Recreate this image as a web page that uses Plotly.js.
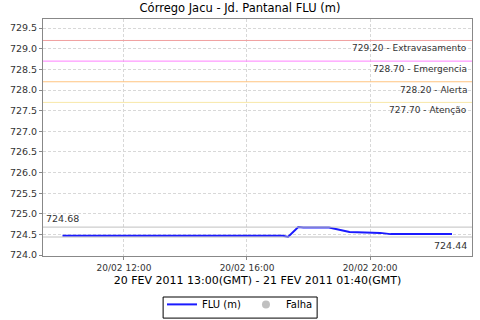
<!DOCTYPE html>
<html>
<head>
<meta charset="utf-8">
<script src="https://cdn.plot.ly/plotly-3.0.1.min.js"></script>
<style>html,body{margin:0;padding:0;background:#fff;}#chart{width:480px;height:320px;}</style>
</head>
<body>
<div id="chart"></div>
<script>
// Series: FLU (m), local time
var times = ["2011-02-20 10:00","2011-02-20 17:10","2011-02-20 17:20","2011-02-20 17:40","2011-02-20 17:50",
             "2011-02-20 18:40","2011-02-20 19:20","2011-02-20 20:00","2011-02-20 20:20","2011-02-20 20:40","2011-02-20 22:40"];
var levels = [724.47,724.47,724.44,724.68,724.67,724.67,724.56,724.55,724.54,724.51,724.51];
// Falha (failure) series: no valid readings
var falhaTimes = ["2011-02-20 10:00"];
var falhaLevels = [null];
// Threshold levels
var thresholdValues = [729.20, 728.70, 728.20, 727.70];
var thresholdNames = ["Extravasamento", "Emergencia", "Alerta", "Atenção"];
var thresholdColors = ["#f0a0a0", "#ff80ff", "#ffc480", "#f8e8a8"];
var xTickVals = ["2011-02-20 12:00","2011-02-20 16:00","2011-02-20 20:00"];
var xTickText = ["20/02 12:00","20/02 16:00","20/02 20:00"];

var maxV = Math.max.apply(null, levels);
var minV = Math.min.apply(null, levels);
var F = "DejaVu Sans, sans-serif";

var shapes = [], annotations = [];
thresholdValues.forEach(function(v,i){
  shapes.push({type:"line",xref:"paper",x0:0,x1:1,yref:"y",y0:v,y1:v,line:{color:thresholdColors[i],width:1}});
  annotations.push({xref:"paper",x:1,xanchor:"right",xshift:-3,yref:"y",y:v,yanchor:"top",yshift:-1,
    text:v.toFixed(2)+" - "+thresholdNames[i],showarrow:false,font:{family:F,size:9,color:"#333"}});
});
shapes.push({type:"line",xref:"paper",x0:0,x1:1,yref:"y",y0:maxV,y1:maxV,line:{color:"#c0c0c0",width:1}});
shapes.push({type:"line",xref:"paper",x0:0,x1:1,yref:"y",y0:minV,y1:minV,line:{color:"#c0c0c0",width:1}});
// legend frame
shapes.push({type:"rect",xref:"paper",yref:"paper",x0:0.28,x1:0.639,y0:-0.173,y1:-0.262,line:{color:"#000",width:1},fillcolor:"rgba(0,0,0,0)"});
annotations.push({xref:"paper",x:0,xanchor:"left",xshift:1,yref:"y",y:maxV,yanchor:"bottom",yshift:1,
  text:maxV.toFixed(2),showarrow:false,font:{family:F,size:9.5,color:"#333"}});
annotations.push({xref:"paper",x:1,xanchor:"right",xshift:-3,yref:"y",y:minV,yanchor:"top",yshift:-1,
  text:minV.toFixed(2),showarrow:false,font:{family:F,size:9.5,color:"#333"}});

var data = [
  {x:times,y:levels,type:"scatter",mode:"lines",name:"FLU (m)",line:{color:"#1a1aff",width:2}},
  {x:falhaTimes,y:falhaLevels,type:"scatter",mode:"markers",name:"Falha",marker:{color:"#c0c0c0",size:8,symbol:"circle"}}
];

var layout = {
  width:480,height:320,
  margin:{l:43,r:8,t:19,b:64,autoexpand:false},
  paper_bgcolor:"#fff",plot_bgcolor:"#fff",
  title:{text:"Córrego Jacu - Jd. Pantanal FLU (m)",font:{family:F,size:11.5,color:"#000"},x:0.5,xanchor:"center",y:0.975,yanchor:"middle"},
  xaxis:{type:"date",range:["2011-02-20 09:22","2011-02-20 23:19"],automargin:false,
    tickvals:xTickVals,ticktext:xTickText,tickfont:{family:F,size:9,color:"#333"},
    showgrid:true,gridcolor:"#d8d8d8",griddash:"3px,2px",gridwidth:1,
    showline:true,linecolor:"#888",mirror:true,ticks:"outside",ticklen:3,tickcolor:"#888",zeroline:false,
    title:{text:"20 FEV 2011 13:00(GMT) - 21 FEV 2011 01:40(GMT)",font:{family:F,size:11,color:"#000"},standoff:4}},
  yaxis:{range:[723.98,729.72],dtick:0.5,tick0:724,tickformat:".1f",tickfont:{family:F,size:9.5,color:"#333"},automargin:false,
    showgrid:true,gridcolor:"#d8d8d8",griddash:"3px,2px",gridwidth:1,
    showline:true,linecolor:"#888",mirror:true,ticks:"outside",ticklen:3,tickcolor:"#888",zeroline:false},
  showlegend:true,
  legend:{orientation:"h",xref:"container",x:0.5,xanchor:"center",y:-0.143,yanchor:"top",borderwidth:0,bgcolor:"rgba(0,0,0,0)",
    font:{family:F,size:10,color:"#000"},itemwidth:30,tracegroupgap:0},
  shapes:shapes,annotations:annotations
};
Plotly.newPlot("chart",data,layout,{staticPlot:true});
</script>
</body>
</html>
